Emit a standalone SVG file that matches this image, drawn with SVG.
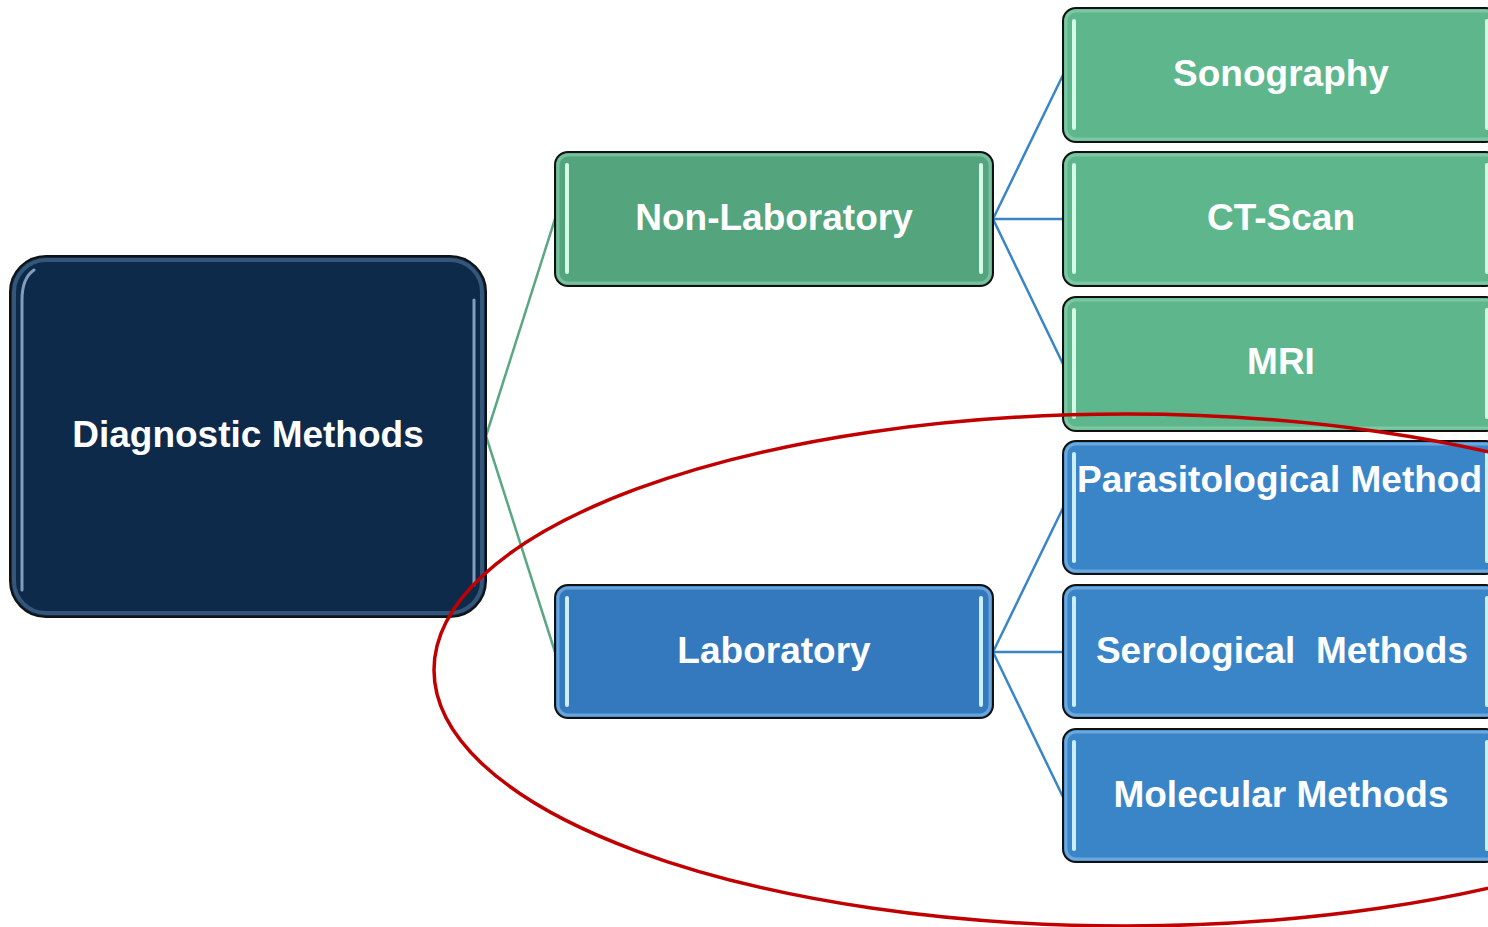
<svg xmlns="http://www.w3.org/2000/svg" width="1488" height="927" viewBox="0 0 1488 927">
<style>
.box{stroke:#111;stroke-width:2}
.g1{fill:#54a47e}.g2{fill:#5db68c}.b1{fill:#3479bd}.b2{fill:#3a85c8}.root{fill:#0d2a4a}
.rimg{fill:none;stroke:#8fd4b2;stroke-width:3;opacity:.6}
.rimb{fill:none;stroke:#8cc0ec;stroke-width:3;opacity:.6}
.rimr{fill:none;stroke:#4f7598;stroke-width:4;opacity:.6}
.hlg{stroke:#d4fbe6;stroke-width:4;stroke-linecap:round}
.hlb{stroke:#cdeeff;stroke-width:4;stroke-linecap:round}
.hlr{stroke:#9fbcd8;stroke-width:3;stroke-linecap:round;fill:none;opacity:.8}
.t{font-family:"Liberation Sans",Arial,sans-serif;font-weight:bold;font-size:37px;fill:#fff;text-anchor:middle}
.cg{stroke:#5aa882;stroke-width:2.5;fill:none}
.cb{stroke:#3a85c8;stroke-width:2.5;fill:none}
</style>
<rect width="1488" height="927" fill="#fff"/>
<g id="connectors">
<line class="cg" x1="486" y1="436" x2="555" y2="219"/>
<line class="cg" x1="486" y1="436" x2="555" y2="652"/>
<line class="cb" x1="993" y1="219" x2="1063" y2="75"/>
<line class="cb" x1="993" y1="219" x2="1063" y2="219"/>
<line class="cb" x1="993" y1="219" x2="1063" y2="364"/>
<line class="cb" x1="993" y1="652" x2="1063" y2="508"/>
<line class="cb" x1="993" y1="652" x2="1063" y2="652"/>
<line class="cb" x1="993" y1="652" x2="1063" y2="797"/>
</g>
<g id="root">
<rect class="box root" x="10" y="256" width="476" height="361" rx="36"/>
<rect class="rimr" x="14" y="260" width="468" height="353" rx="32"/>
<path class="hlr" d="M22 590 L22 300 Q22 278 34 270"/>
<line class="hlr" x1="474" y1="300" x2="474" y2="585"/>
<text class="t" x="248" y="447">Diagnostic Methods</text>
</g>
<g id="non-laboratory">
<rect class="box g1" x="555" y="152" width="438" height="134" rx="13"/>
<rect class="rimg" x="558" y="155" width="432" height="128" rx="10"/>
<line class="hlg" x1="567" y1="165" x2="567" y2="272"/>
<line class="hlg" x1="981" y1="165" x2="981" y2="272"/>
<text class="t" x="774" y="230">Non-Laboratory</text>
</g>
<g id="laboratory">
<rect class="box b1" x="555" y="585" width="438" height="133" rx="13"/>
<rect class="rimb" x="558" y="588" width="432" height="127" rx="10"/>
<line class="hlb" x1="567" y1="598" x2="567" y2="705"/>
<line class="hlb" x1="981" y1="598" x2="981" y2="705"/>
<text class="t" x="774" y="663">Laboratory</text>
</g>
<g id="sonography">
<rect class="box g2" x="1063" y="8" width="436" height="134" rx="13"/>
<rect class="rimg" x="1066" y="11" width="430" height="128" rx="10"/>
<line class="hlg" x1="1074" y1="21" x2="1074" y2="128"/>
<line class="hlg" x1="1487" y1="21" x2="1487" y2="128"/>
<text class="t" x="1281" y="86">Sonography</text>
</g>
<g id="ct-scan">
<rect class="box g2" x="1063" y="152" width="436" height="134" rx="13"/>
<rect class="rimg" x="1066" y="155" width="430" height="128" rx="10"/>
<line class="hlg" x1="1074" y1="165" x2="1074" y2="272"/>
<line class="hlg" x1="1487" y1="165" x2="1487" y2="272"/>
<text class="t" x="1281" y="230">CT-Scan</text>
</g>
<g id="mri">
<rect class="box g2" x="1063" y="297" width="436" height="134" rx="13"/>
<rect class="rimg" x="1066" y="300" width="430" height="128" rx="10"/>
<line class="hlg" x1="1074" y1="310" x2="1074" y2="417"/>
<line class="hlg" x1="1487" y1="310" x2="1487" y2="417"/>
<text class="t" x="1281" y="374">MRI</text>
</g>
<g id="parasitological">
<rect class="box b2" x="1063" y="441" width="436" height="133" rx="13"/>
<rect class="rimb" x="1066" y="444" width="430" height="127" rx="10"/>
<line class="hlb" x1="1074" y1="454" x2="1074" y2="561"/>
<line class="hlb" x1="1487" y1="454" x2="1487" y2="561"/>
<text class="t" x="1077" y="492" style="text-anchor:start">Parasitological Method</text>
</g>
<g id="serological">
<rect class="box b2" x="1063" y="585" width="436" height="133" rx="13"/>
<rect class="rimb" x="1066" y="588" width="430" height="127" rx="10"/>
<line class="hlb" x1="1074" y1="598" x2="1074" y2="705"/>
<line class="hlb" x1="1487" y1="598" x2="1487" y2="705"/>
<text class="t" x="1282" y="663" xml:space="preserve">Serological  Methods</text>
</g>
<g id="molecular">
<rect class="box b2" x="1063" y="729" width="436" height="133" rx="13"/>
<rect class="rimb" x="1066" y="732" width="430" height="127" rx="10"/>
<line class="hlb" x1="1074" y1="742" x2="1074" y2="849"/>
<line class="hlb" x1="1487" y1="742" x2="1487" y2="849"/>
<text class="t" x="1281" y="807">Molecular Methods</text>
</g>
<g id="highlight-ellipse">
<ellipse cx="1126" cy="670" rx="692" ry="256" fill="none" stroke="#c00000" stroke-width="3.5"/>
</g>
</svg>
